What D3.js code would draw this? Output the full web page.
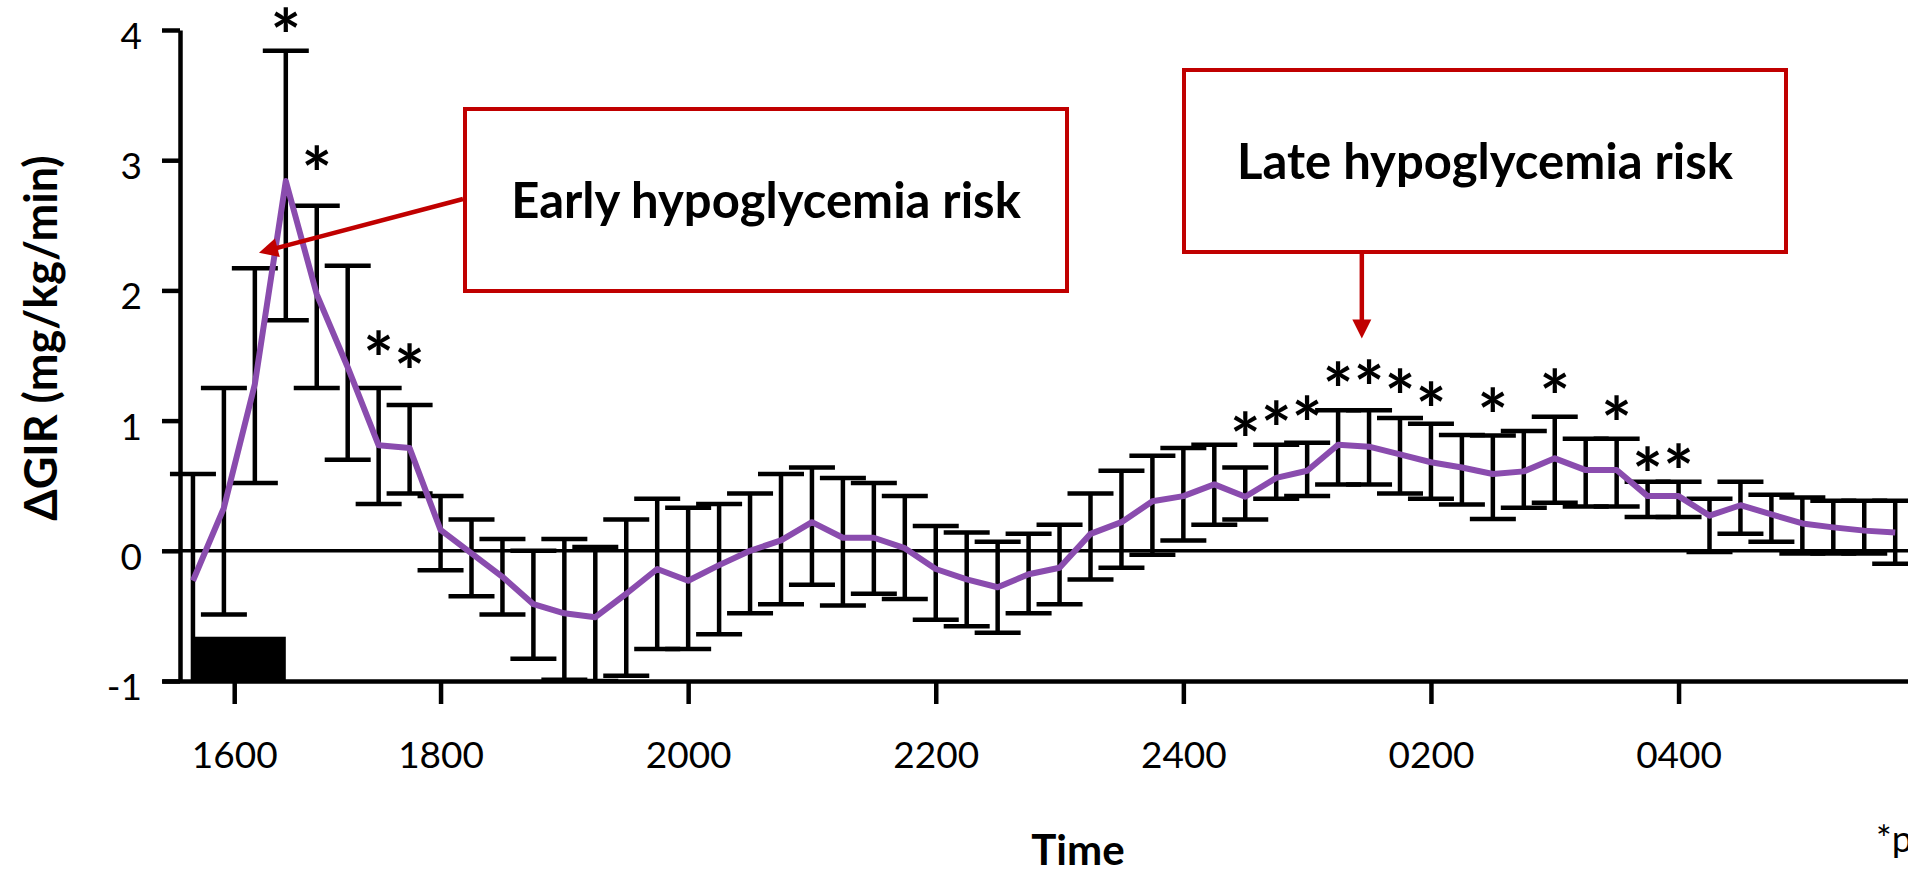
<!DOCTYPE html>
<html>
<head>
<meta charset="utf-8">
<script src="https://cdn.jsdelivr.net/npm/d3@7"></script>
<style>
body{margin:0;background:#fff;overflow:hidden;}
text{font-family:Lato,"Open Sans",sans-serif;}
</style>
</head>
<body>
<div id="chart"></div>
<script>
// minutes after 1600, one sample every 15 min
const minutes=[0,15,30,45,60,75,90,105,120,135,150,165,180,195,210,225,240,255,270,285,
  300,315,330,345,360,375,390,405,420,435,450,465,480,495,510,525,540,555,570,585,
  600,615,630,645,660,675,690,705,720,735,750,765,780,795,810,825];

// mean change in GIR and the ends of its error bar
const meanGIR=[-0.23,0.33,1.28,2.84,1.97,1.41,0.81,0.79,0.16,-0.02,
  -0.20,-0.41,-0.48,-0.51,-0.33,-0.14,-0.23,-0.11,0.00,0.08,
  0.22,0.10,0.10,0.02,-0.14,-0.22,-0.28,-0.18,-0.13,0.13,
  0.22,0.38,0.42,0.51,0.415,0.56,0.615,0.815,0.80,0.74,
  0.68,0.64,0.59,0.61,0.71,0.62,0.62,0.42,0.42,0.27,
  0.35,0.28,0.21,0.18,0.155,0.14];
const upperGIR=[0.59,1.25,2.17,3.84,2.65,2.19,1.25,1.12,0.42,0.24,
  0.09,0.00,0.09,0.03,0.24,0.40,0.33,0.36,0.44,0.59,
  0.64,0.56,0.52,0.42,0.19,0.14,0.07,0.13,0.20,0.44,
  0.615,0.73,0.79,0.815,0.64,0.815,0.83,1.08,1.08,1.02,
  0.975,0.89,0.885,0.92,1.03,0.86,0.86,0.53,0.53,0.40,
  0.53,0.43,0.41,0.385,0.385,0.385];
const lowerGIR=[-1.05,-0.49,0.52,1.77,1.25,0.70,0.36,0.44,-0.15,-0.35,
  -0.49,-0.83,-0.99,-1.00,-0.96,-0.755,-0.755,-0.64,-0.48,-0.41,
  -0.26,-0.42,-0.33,-0.37,-0.53,-0.58,-0.63,-0.48,-0.41,-0.22,
  -0.13,-0.03,0.08,0.20,0.24,0.40,0.42,0.51,0.51,0.44,
  0.40,0.355,0.245,0.33,0.37,0.34,0.34,0.26,0.26,-0.01,
  0.13,0.07,-0.02,-0.02,-0.02,-0.10];

// significance marks: sample index and height of the star
const starIndex=[3,4,6,7,34,35,36,37,38,39,40,42,44,46,47,48];
const starLevel=[4.06,3.00,1.58,1.48,0.96,1.04,1.08,1.34,1.36,1.29,1.19,1.14,1.29,1.08,0.69,0.71];

// dosing period shown as the black block (minutes)
const dosing=[0,45];
const dosingTop=-0.66;

const yTicks=[-1,0,1,2,3,4];
const xTickMinutes=[20,120,240,360,480,600,720];
const xTickLabels=['1600','1800','2000','2200','2400','0200','0400'];

const width=1908;
const height=874;
const purple='#8a4cae';
const red='#c00000';

const data=minutes.map((m,i)=>({m:m,v:meanGIR[i],hi:upperGIR[i],lo:lowerGIR[i]}));

const svg=d3.select('#chart')
  .append('svg')
  .attr('width',width)
  .attr('height',height)
  .attr('viewBox',[0,0,width,height]);

const x=d3.scaleLinear()
  .domain([-15,840])
  .range([162,162+57*30.95]);

const y=d3.scaleLinear()
  .domain([-1,4])
  .range([681,30]);

svg.append('defs').append('clipPath')
  .attr('id','plot-clip')
  .append('rect')
  .attr('x',0).attr('y',0)
  .attr('width',width).attr('height',y(-1));

// zero line
svg.append('line')
  .attr('x1',180).attr('x2',width)
  .attr('y1',y(0)).attr('y2',y(0))
  .attr('stroke','#000').attr('stroke-width',3.5);

// dosing block
svg.append('rect')
  .attr('x',x(dosing[0]))
  .attr('y',y(dosingTop))
  .attr('width',x(dosing[1])-x(dosing[0]))
  .attr('height',y(-1)-y(dosingTop))
  .attr('fill','#000');

// error bars
const bars=svg.append('g')
  .attr('clip-path','url(#plot-clip)')
  .attr('stroke','#000')
  .attr('stroke-width',4.5)
  .selectAll('g')
  .data(data)
  .join('g');

bars.append('line')
  .attr('x1',d=>x(d.m)).attr('x2',d=>x(d.m))
  .attr('y1',d=>y(d.hi)).attr('y2',d=>y(d.lo));
bars.append('line')
  .attr('x1',d=>x(d.m)-23).attr('x2',d=>x(d.m)+23)
  .attr('y1',d=>y(d.hi)).attr('y2',d=>y(d.hi));
bars.append('line')
  .attr('x1',d=>x(d.m)-23).attr('x2',d=>x(d.m)+23)
  .attr('y1',d=>y(d.lo)).attr('y2',d=>y(d.lo));

// mean line
svg.append('path')
  .datum(data)
  .attr('fill','none')
  .attr('stroke',purple)
  .attr('stroke-width',6)
  .attr('stroke-linejoin','round')
  .attr('d',d3.line().x(d=>x(d.m)).y(d=>y(d.v)));

// axes
function styleAxis(g){
  g.selectAll('path,line').attr('stroke','#000').attr('stroke-width',4.5);
  g.selectAll('text').attr('fill','#000');
  g.attr('font-size',37).attr('font-family','Lato, "Open Sans", sans-serif');
}

svg.append('g')
  .attr('transform','translate(0,'+y(-1)+')')
  .call(d3.axisBottom(x).tickValues(xTickMinutes).tickFormat((d,i)=>xTickLabels[i])
    .tickSize(23).tickPadding(38).tickSizeOuter(0))
  .call(styleAxis);

svg.append('g')
  .attr('transform','translate(180,0)')
  .call(d3.axisLeft(y).tickValues(yTicks).tickFormat(d=>String(d))
    .tickSize(18).tickPadding(20).tickSizeOuter(0))
  .call(styleAxis)
  .call(g=>g.selectAll('text').attr('dy','0.5em'));

// stars, centred on their level (the glyph sits ~0.57em above the baseline)
const starSize=72;
svg.append('g')
  .selectAll('text')
  .data(starIndex)
  .join('text')
  .attr('x',i=>x(minutes[i]))
  .attr('y',(i,k)=>y(starLevel[k])+0.57*starSize)
  .attr('text-anchor','middle')
  .attr('font-family','"DejaVu Sans", sans-serif')
  .attr('font-weight','bold')
  .attr('font-size',starSize)
  .text('*');

// axis titles
svg.append('text')
  .attr('transform','translate(57,338) rotate(-90)')
  .attr('text-anchor','middle')
  .attr('font-size',45)
  .attr('font-weight','bold')
  .text('ΔGIR (mg/kg/min)');

svg.append('text')
  .attr('x',1078).attr('y',865)
  .attr('text-anchor','middle')
  .attr('font-size',42)
  .attr('font-weight','bold')
  .text('Time');

svg.append('text')
  .attr('x',1876).attr('y',852)
  .attr('font-size',37)
  .text('*p<0.05');

// callouts
function arrow(x1,y1,x2,y2){
  const dx=x2-x1, dy=y2-y1, len=Math.hypot(dx,dy);
  const ux=dx/len, uy=dy/len;
  const head=19, half=9.5;
  svg.append('line')
    .attr('x1',x1).attr('y1',y1)
    .attr('x2',x2-ux*(head-3)).attr('y2',y2-uy*(head-3))
    .attr('stroke',red).attr('stroke-width',4.5);
  const bx=x2-ux*head, by=y2-uy*head;
  svg.append('path')
    .attr('d','M'+x2+','+y2+'L'+(bx-uy*half)+','+(by+ux*half)+'L'+(bx+uy*half)+','+(by-ux*half)+'Z')
    .attr('fill',red);
}

function callout(bx,by,bw,bh,label,baseline){
  svg.append('rect')
    .attr('x',bx).attr('y',by)
    .attr('width',bw).attr('height',bh)
    .attr('fill','#fff')
    .attr('stroke',red).attr('stroke-width',4);
  svg.append('text')
    .attr('x',bx+bw/2).attr('y',baseline)
    .attr('text-anchor','middle')
    .attr('font-size',49)
    .attr('font-weight','bold')
    .text(label);
}

callout(465,109,602,182,'Early hypoglycemia risk',218);
arrow(463,199,x(32),y(2.29));

callout(1184,70,602,182,'Late hypoglycemia risk',179);
arrow(x(566.5),252,x(566.5),y(1.63));
</script>
</body>
</html>
